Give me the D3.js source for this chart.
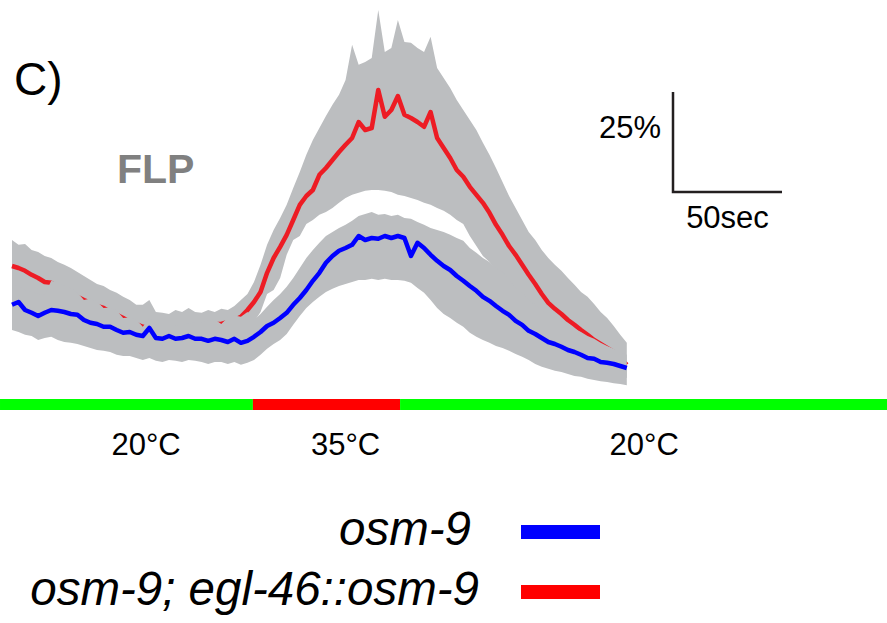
<!DOCTYPE html>
<html>
<head>
<meta charset="utf-8">
<script src="https://cdn.jsdelivr.net/npm/d3@7"></script>
<style>
  body { margin: 0; background: #fff; }
  svg { display: block; }
  text { font-family: "Liberation Sans", Arial, sans-serif; }
</style>
</head>
<body>
<svg id="chart" width="887" height="623"></svg>
<script>
// time (s) of each sample
const timeSec = [0, 3, 6, 9, 12, 15, 18, 21, 24, 27,
  30, 33, 36, 39, 42, 45, 48, 51, 54, 57,
  60, 63, 66, 69, 72, 75, 78, 81, 84, 87,
  90, 93, 96, 99, 102, 105, 108, 111, 114, 117,
  120, 123, 126, 129, 132, 135, 138, 141, 144, 147,
  150, 153, 156, 159, 162, 165, 168, 171, 174, 177,
  180, 183, 186, 189, 192, 195, 198, 201, 204, 207,
  210, 213, 216, 219, 222, 225, 228, 231, 234, 237,
  240, 243, 246, 249, 252, 255, 258, 261, 264, 267,
  270, 273, 276, 279, 282];

// osm-9 (blue): mean dF/F (%) and band edges
const blueMean = [18.8, 19.5, 17.5, 16.8, 16.0, 16.8, 17.5, 17.3, 17.0, 16.5,
  16.3, 15.0, 14.3, 14.0, 13.3, 13.3, 12.5, 11.8, 12.0, 11.3,
  11.0, 13.0, 10.5, 10.3, 11.0, 10.3, 10.5, 11.0, 10.3, 10.3,
  9.8, 10.3, 10.0, 9.5, 10.3, 9.3, 9.8, 10.8, 12.0, 13.5,
  14.3, 15.5, 16.8, 18.8, 20.5, 22.5, 24.8, 26.8, 29.3, 31.0,
  32.3, 33.0, 33.8, 36.0, 35.0, 35.5, 35.3, 36.0, 35.5, 36.0,
  35.5, 31.0, 34.3, 33.0, 31.3, 29.8, 28.5, 27.5, 26.0, 24.8,
  23.5, 22.3, 20.8, 19.8, 18.5, 17.3, 16.3, 14.8, 13.8, 12.3,
  11.5, 10.5, 9.5, 9.0, 8.3, 7.5, 7.0, 6.3, 5.5, 5.3,
  4.5, 4.3, 4.0, 3.5, 3.0];
const blueTop = [23.8, 23.5, 22.5, 22.0, 21.5, 21.3, 24.8, 24.4, 23.6, 22.9,
  21.9, 20.0, 20.4, 19.6, 18.0, 18.1, 17.4, 15.5, 15.6, 15.1,
  13.3, 15.5, 13.9, 13.6, 13.6, 13.6, 13.9, 14.1, 14.4, 14.4,
  14.9, 15.1, 14.0, 15.6, 16.1, 15.8, 17.0, 15.0, 16.5, 18.3,
  20.0, 21.5, 23.3, 25.5, 28.0, 30.5, 32.5, 34.3, 36.0, 37.0,
  38.0, 38.8, 39.8, 41.0, 41.5, 42.0, 41.3, 41.5, 41.0, 41.3,
  40.5, 40.3, 39.5, 38.8, 38.0, 37.5, 37.0, 36.3, 35.5, 34.8,
  33.0, 31.8, 30.5, 29.5, 28.0, 27.0, 25.0, 23.0, 21.8, 20.0,
  18.8, 17.5, 16.5, 15.5, 14.8, 13.8, 12.8, 12.0, 11.0, 10.3,
  9.3, 8.5, 7.8, 7.0, 6.3];
const blueBot = [12.5, 12.0, 11.3, 11.0, 10.0, 10.5, 10.8, 10.0, 9.5, 9.3,
  9.0, 8.5, 8.0, 7.5, 7.3, 7.0, 6.3, 6.0, 6.0, 5.5,
  5.0, 5.5, 4.8, 4.5, 5.0, 4.8, 4.5, 5.0, 4.8, 4.5,
  4.0, 4.5, 4.5, 4.0, 4.5, 3.8, 4.3, 5.0, 6.3, 7.8,
  9.0, 10.0, 11.5, 13.8, 16.0, 18.0, 19.5, 20.8, 22.0, 22.8,
  23.5, 24.0, 24.5, 25.0, 25.0, 25.3, 25.0, 25.3, 25.0, 25.0,
  24.8, 24.3, 23.0, 21.8, 20.0, 18.0, 16.5, 15.5, 14.3, 13.3,
  11.8, 10.8, 10.0, 9.3, 8.5, 8.0, 7.3, 6.5, 5.8, 5.0,
  4.0, 3.3, 2.8, 2.3, 2.0, 1.5, 1.0, 0.8, 0.3, 0.0,
  -0.3, -0.5, -0.8, -1.0, -1.3];

// osm-9; egl-46::osm-9 (red)
const redMean = [28.5, 28.0, 27.3, 26.3, 25.5, 24.5, 24.3, 23.3, 22.5, 21.8,
  20.8, 20.0, 19.3, 18.5, 18.0, 17.0, 16.3, 15.5, 14.5, 14.0,
  13.3, 13.0, 12.8, 12.5, 12.5, 12.5, 12.8, 13.0, 13.3, 13.3,
  13.8, 14.0, 14.0, 14.5, 15.0, 15.8, 17.5, 19.5, 22.0, 26.8,
  30.5, 33.3, 36.3, 40.0, 43.8, 46.0, 47.5, 51.3, 53.0, 55.0,
  57.0, 58.8, 60.5, 64.5, 62.5, 63.0, 72.5, 65.8, 67.5, 71.0,
  66.3, 65.5, 64.5, 63.3, 67.0, 60.5, 58.0, 55.5, 52.5, 50.8,
  48.3, 46.3, 44.3, 41.8, 38.8, 36.3, 33.5, 31.3, 28.8, 26.3,
  24.0, 21.5, 19.3, 17.8, 16.5, 15.0, 13.8, 12.5, 11.3, 10.0,
  9.0, 8.0, 7.0, 5.5, 3.8];
const redTop = [35.0, 33.8, 34.0, 32.5, 32.0, 31.0, 30.5, 29.5, 28.8, 28.0,
  27.0, 26.0, 25.0, 24.0, 23.5, 22.5, 21.8, 20.8, 20.0, 18.8,
  18.8, 20.0, 17.0, 16.8, 16.5, 17.5, 17.0, 18.0, 17.0, 16.8,
  17.5, 17.0, 17.8, 17.5, 18.5, 20.0, 21.5, 24.5, 28.8, 33.8,
  37.5, 40.5, 43.8, 48.0, 52.0, 56.3, 60.0, 63.0, 66.0, 68.8,
  71.3, 75.0, 83.8, 78.8, 79.5, 80.5, 92.5, 82.0, 83.0, 90.0,
  84.5, 84.3, 83.0, 82.0, 85.8, 78.0, 75.5, 73.0, 70.0, 67.5,
  65.0, 62.5, 59.3, 56.3, 53.0, 49.5, 46.0, 43.0, 40.0, 37.0,
  35.0, 32.5, 30.5, 28.8, 27.3, 25.5, 23.8, 22.0, 20.8, 19.0,
  17.0, 15.5, 13.5, 11.3, 9.3];
const redBot = [22.0, 21.8, 21.3, 20.5, 20.0, 19.0, 18.8, 18.0, 17.3, 16.5,
  15.5, 15.0, 14.3, 13.5, 13.0, 12.0, 11.5, 10.8, 10.0, 9.5,
  9.0, 8.8, 8.8, 8.5, 8.5, 8.5, 8.8, 9.0, 9.0, 9.3,
  9.5, 9.8, 10.0, 10.3, 10.8, 11.5, 12.5, 14.5, 17.0, 21.5,
  22.5, 25.5, 31.3, 35.0, 36.0, 39.0, 40.0, 41.3, 42.0, 43.0,
  44.3, 45.5, 46.3, 46.8, 47.3, 47.5, 47.5, 47.3, 47.0, 46.3,
  46.0, 45.5, 45.0, 44.3, 43.8, 43.0, 42.3, 41.3, 40.0, 39.0,
  36.0, 33.5, 31.0, 29.5, 27.5, 25.0, 22.5, 20.0, 17.5, 15.5,
  13.5, 11.8, 10.0, 8.8, 7.5, 6.3, 5.5, 4.5, 3.8, 3.3,
  2.5, 2.0, 1.5, 1.0, 0.5];

// stimulus protocol
const stimStart = [-5.5, 110.5, 178];
const stimEnd = [110.5, 178, 401.4];
const stimColor = ['#00ff00', '#ff0000', '#00ff00'];
const tempLabels = ['20°C', '35°C', '20°C'];
const tempLabelTime = [61.5, 153, 290];

const seriesNames = ['osm-9', 'osm-9; egl-46::osm-9'];
const seriesColors = ['#0000ff', '#ed1c24'];
const legendColors = ['#0000ff', '#ff0000'];

const svg = d3.select('#chart');

const x = d3.scaleLinear().domain([0, 282]).range([12, 626.8]);
const y = d3.scaleLinear().domain([0, 25]).range([380, 280]);

function band(top, bot) {
  return d3.area()
    .x((d, i) => x(timeSec[i]))
    .y0((d, i) => y(bot[i]))
    .y1((d, i) => y(top[i]))(timeSec);
}
function trace(vals) {
  return d3.line()
    .x((d, i) => x(timeSec[i]))
    .y(d => y(d))(vals);
}

const grey = '#bcbec0';

// red first, blue on top of it
svg.append('path').attr('d', band(redTop, redBot)).attr('fill', grey);
svg.append('path').attr('d', trace(redMean))
  .attr('fill', 'none').attr('stroke', seriesColors[1])
  .attr('stroke-width', 4.5).attr('stroke-linejoin', 'round');
svg.append('path').attr('d', band(blueTop, blueBot)).attr('fill', grey);
svg.append('path').attr('d', trace(blueMean))
  .attr('fill', 'none').attr('stroke', seriesColors[0])
  .attr('stroke-width', 4.5).attr('stroke-linejoin', 'round');

// stimulus bar
svg.selectAll('rect.stim')
  .data(stimStart)
  .join('rect')
  .attr('class', 'stim')
  .attr('x', (d, i) => x(d))
  .attr('width', (d, i) => x(stimEnd[i]) - x(d))
  .attr('y', 399)
  .attr('height', 11)
  .attr('fill', (d, i) => stimColor[i]);

svg.selectAll('text.temp')
  .data(tempLabels)
  .join('text')
  .attr('class', 'temp')
  .attr('x', (d, i) => x(tempLabelTime[i]))
  .attr('y', 455)
  .attr('text-anchor', 'middle')
  .attr('font-size', 31)
  .text(d => d);

// scale bar
const barX = 673, barY = 192;
const barH = y(0) - y(25);
const barW = x(50) - x(0);
svg.append('path')
  .attr('d', `M${barX},${barY - barH}V${barY}H${barX + barW}`)
  .attr('fill', 'none').attr('stroke', '#231f20').attr('stroke-width', 2.5);
svg.append('text').attr('x', barX - 12).attr('y', 138)
  .attr('text-anchor', 'end').attr('font-size', 31).text('25%');
svg.append('text').attr('x', barX + barW / 2).attr('y', 228)
  .attr('text-anchor', 'middle').attr('font-size', 31).text('50sec');

// panel label
svg.append('text').attr('x', 14).attr('y', 95)
  .attr('font-size', 46).text('C)');
svg.append('text').attr('x', 117).attr('y', 183)
  .attr('font-family', '"Open Sans", sans-serif').attr('font-weight', 700)
  .attr('font-size', 41).attr('fill', '#808080').text('FLP');

// legend
const legendTextEnd = [471, 479];
const legend = svg.selectAll('g.leg')
  .data(seriesNames)
  .join('g')
  .attr('class', 'leg')
  .attr('transform', (d, i) => `translate(0,${545 + i * 60})`);
legend.append('text')
  .attr('x', (d, i) => legendTextEnd[i]).attr('text-anchor', 'end')
  .attr('font-size', 47.5).attr('font-style', 'italic')
  .text(d => d);
legend.append('rect')
  .attr('x', 521).attr('y', -20).attr('width', 79).attr('height', 14)
  .attr('fill', (d, i) => legendColors[i]);
</script>
</body>
</html>
